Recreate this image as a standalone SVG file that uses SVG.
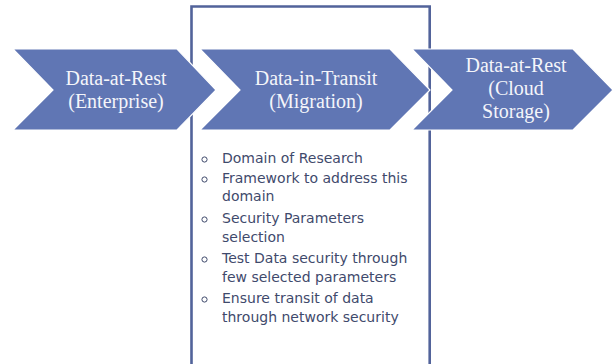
<svg xmlns="http://www.w3.org/2000/svg" width="613" height="364" viewBox="0 0 613 364">
<style>
.frame{fill:none;stroke:#52639a;stroke-width:2.6}
.chev{fill:#6076b4;stroke:#ffffff;stroke-width:1.2;stroke-linejoin:miter}
.ct{font-family:"Liberation Serif","Times New Roman",serif;font-size:20px;fill:#f4f5fa;text-anchor:middle}
.bt{font-family:"DejaVu Sans","Liberation Sans",sans-serif;font-size:14px;fill:#3f4a6c}
.bul{fill:none;stroke:#3f4a6c;stroke-width:1}
</style>
<rect width="613" height="364" fill="#ffffff"/>
<g id="frame">
<path class="frame" d="M191.5,370 V6.5 H429.7 V370"/>
</g>
<g id="node-rest-enterprise">
<polygon class="chev" points="13,49 177,49 216,90 177,130 13,130 53,90"/>
<text class="ct" x="116" y="85">Data-at-Rest</text>
<text class="ct" x="116" y="108">(Enterprise)</text>
</g>
<g id="node-transit">
<polygon class="chev" points="200,49 390,49 430,90 390,130 200,130 240,90"/>
<text class="ct" x="316" y="85">Data-in-Transit</text>
<text class="ct" x="316" y="108">(Migration)</text>
</g>
<g id="node-rest-cloud">
<polygon class="chev" points="412,49 573,49 613,90 573,130 412,130 452,90"/>
<text class="ct" x="516" y="72">Data-at-Rest</text>
<text class="ct" x="516" y="95">(Cloud</text>
<text class="ct" x="516" y="118">Storage)</text>
</g>
<g id="bullets">
<circle class="bul" cx="204.5" cy="159.5" r="2.6"/>
<text class="bt" x="222" y="163">Domain of Research</text>
<circle class="bul" cx="204.5" cy="179.5" r="2.6"/>
<text class="bt" x="222" y="183">Framework to address this</text>
<text class="bt" x="222" y="201">domain</text>
<circle class="bul" cx="204.5" cy="219.5" r="2.6"/>
<text class="bt" x="222" y="223">Security Parameters</text>
<text class="bt" x="222" y="242">selection</text>
<circle class="bul" cx="204.5" cy="259.5" r="2.6"/>
<text class="bt" x="222" y="263">Test Data security through</text>
<text class="bt" x="222" y="282">few selected parameters</text>
<circle class="bul" cx="204.5" cy="299.5" r="2.6"/>
<text class="bt" x="222" y="303">Ensure transit of data</text>
<text class="bt" x="222" y="322">through network security</text>
</g>
<g id="connectors"></g>
</svg>
